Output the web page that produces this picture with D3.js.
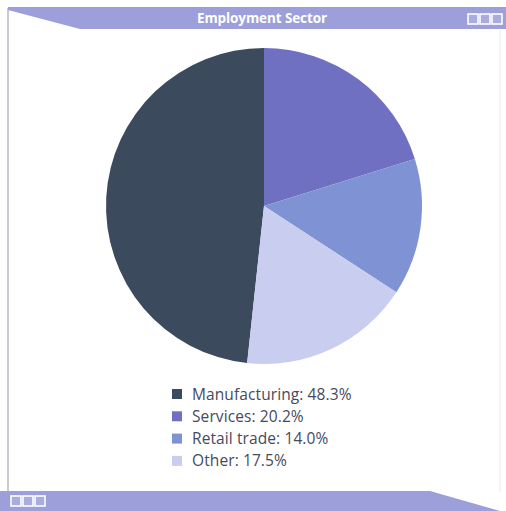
<!DOCTYPE html>
<html>
<head>
<meta charset="utf-8">
<script src="https://cdn.jsdelivr.net/npm/d3@7"></script>
<style>
  html, body { margin: 0; padding: 0; background: #fff; }
  svg { display: block; }
</style>
</head>
<body>
<div id="chart"></div>
<script>
// Employment by sector, legend order
const sectors = ["Manufacturing", "Services", "Retail trade", "Other"];
const shares = [48.3, 20.2, 14.0, 17.5];
const colors = ["#3c4a5e", "#7070c3", "#7f92d3", "#c9cdf0"];
const title = "Employment Sector";

const width = 506, height = 511;
const barColor = "#9c9fd9";

const svg = d3.select("#chart").append("svg")
  .attr("width", width)
  .attr("height", height);

// window frame
svg.append("line")
  .attr("x1", 8).attr("x2", 8).attr("y1", 8).attr("y2", 492)
  .attr("stroke", "#b8b8c4").attr("stroke-width", 1.5);
svg.append("line")
  .attr("x1", 500).attr("x2", 500).attr("y1", 30).attr("y2", 492)
  .attr("stroke", "#ececf2").attr("stroke-width", 1);

// top bar with slanted left end
svg.append("path")
  .attr("d", "M8,7 L506,7 L506,29 L80,29 L8,10 Z")
  .attr("fill", barColor);

svg.append("text")
  .attr("x", 262).attr("y", 23)
  .attr("text-anchor", "middle")
  .attr("font-family", "Open Sans, sans-serif")
  .attr("font-size", 13.5)
  .attr("font-weight", 700)
  .attr("fill", "#fff")
  .attr("letter-spacing", -0.1)
  .text(title);

// bottom bar with slanted right end
svg.append("path")
  .attr("d", "M0,491 L430,491 L500,511 L0,511 Z")
  .attr("fill", barColor);

// window buttons
const drawButtons = (x0, y0) => {
  svg.append("g").selectAll("rect")
    .data([0, 1, 2])
    .join("rect")
    .attr("x", (d) => x0 + d * 12)
    .attr("y", y0)
    .attr("width", 10).attr("height", 10)
    .attr("fill", "#a9acdf")
    .attr("stroke", "#fff")
    .attr("stroke-width", 1.6);
};
drawButtons(468, 14);
drawButtons(11, 496);

// pie
const cx = 264, cy = 206, radius = 158;
const total = d3.sum(shares);
const start = -2 * Math.PI * shares[0] / total;

const pie = d3.pie()
  .sort(null)
  .startAngle(start)
  .endAngle(start + 2 * Math.PI);

const arc = d3.arc().innerRadius(0).outerRadius(radius);

svg.append("g")
  .attr("transform", `translate(${cx},${cy})`)
  .selectAll("path")
  .data(pie(shares))
  .join("path")
  .attr("d", arc)
  .attr("fill", (d, i) => colors[i]);

// legend
const legend = svg.append("g")
  .attr("transform", "translate(172,394)");

const rows = legend.selectAll("g")
  .data(sectors)
  .join("g")
  .attr("transform", (d, i) => `translate(0,${i * 22.3})`);

rows.append("rect")
  .attr("x", 0).attr("y", -5)
  .attr("width", 10).attr("height", 10)
  .attr("fill", (d, i) => colors[i]);

rows.append("text")
  .attr("x", 20).attr("y", 5.5)
  .attr("font-family", "Open Sans, sans-serif")
  .attr("font-size", 15.5)
  .attr("fill", "#464a5c")
  .attr("letter-spacing", 0.1)
  .text((d, i) => `${d}: ${shares[i].toFixed(1)}%`);
</script>
</body>
</html>
